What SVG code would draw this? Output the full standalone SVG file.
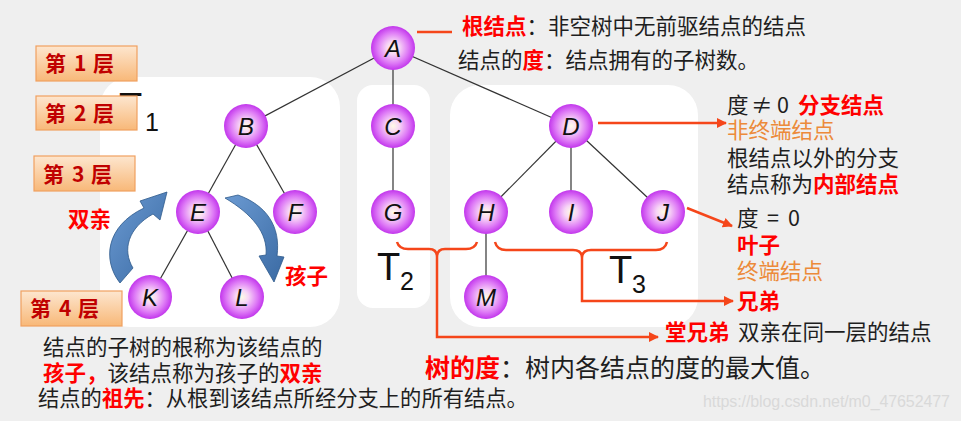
<svg xmlns="http://www.w3.org/2000/svg" width="961" height="421" viewBox="0 0 961 421">
<defs>
<radialGradient id="ng" cx="50%" cy="50%" r="50%">
<stop offset="0" stop-color="#fffbe6"/>
<stop offset="0.3" stop-color="#f7d4f6"/>
<stop offset="0.7" stop-color="#de7af6"/>
<stop offset="1" stop-color="#c236ec"/>
</radialGradient>
<linearGradient id="bg" x1="0" y1="0" x2="0" y2="1">
<stop offset="0" stop-color="#fde6cf"/>
<stop offset="1" stop-color="#f8b878"/>
</linearGradient>
<linearGradient id="blue" x1="0" y1="0" x2="1" y2="1">
<stop offset="0" stop-color="#6b9ad2"/>
<stop offset="1" stop-color="#3a6aa3"/>
</linearGradient>
<marker id="ah" viewBox="0 0 10 10" refX="9" refY="5" markerWidth="4" markerHeight="4" orient="auto" markerUnits="strokeWidth">
<path d="M0,0 L10,5 L0,10 Z" fill="#f5461a"/>
</marker>
<style>
.edge{stroke:#333;stroke-width:1.2;fill:none}
.node circle{fill:url(#ng)}
.node text{font-family:"Liberation Sans",Arial,sans-serif;font-style:italic;font-size:24px;fill:#111;text-anchor:middle}
.rl{stroke:#f5461a;stroke-width:2.5;fill:none}
.cn{font-family:"Noto Sans CJK SC","Noto Sans",sans-serif;font-size:21.5px;fill:#1e1e1e}
.big{font-size:25px}
.sm{font-size:21.3px}
.r{fill:#ff0000;font-weight:bold}
.o{fill:#ec8a3a}
.lvbox{fill:url(#bg);stroke:#f0a060;stroke-width:1.2}
.lv{font-family:"Noto Sans CJK SC",sans-serif;font-size:21px;font-weight:bold;fill:#c00000}
.t{font-family:"Liberation Sans",Arial,sans-serif;fill:#111}
.barrow{fill:url(#blue);stroke:#2f5a8c;stroke-width:0.8}
</style>
</defs>
<rect x="0" y="0" width="961" height="421" fill="#efefef"/>
<!-- panels -->
<rect x="100" y="77" width="240" height="250" rx="30" fill="#fff"/>
<rect x="357" y="85" width="73" height="223" rx="16" fill="#fff"/>
<rect x="450" y="85" width="248" height="242" rx="30" fill="#fff"/>

<!-- T labels -->
<text class="t" x="119" y="120" font-size="38">T</text>
<text class="t" x="145" y="131" font-size="25">1</text>
<text class="t" x="377" y="280" font-size="38">T</text>
<text class="t" x="400" y="290" font-size="25">2</text>
<text class="t" x="609" y="283" font-size="38">T</text>
<text class="t" x="632" y="293" font-size="25">3</text>

<!-- level boxes -->
<g id="level1"><rect class="lvbox" x="36" y="46" width="101" height="35"/><text class="lv" y="71"><tspan x="45">第</tspan><tspan x="74">1</tspan><tspan x="93">层</tspan></text></g>
<g id="level2"><rect class="lvbox" x="36" y="96" width="101" height="34"/><text class="lv" y="121"><tspan x="45">第</tspan><tspan x="74">2</tspan><tspan x="93">层</tspan></text></g>
<g id="level3"><rect class="lvbox" x="34" y="156" width="101" height="35"/><text class="lv" y="182"><tspan x="43">第</tspan><tspan x="72">3</tspan><tspan x="91">层</tspan></text></g>
<g id="level4"><rect class="lvbox" x="21" y="291" width="101" height="35"/><text class="lv" y="316"><tspan x="30">第</tspan><tspan x="59">4</tspan><tspan x="78">层</tspan></text></g>

<!-- connectors -->
<g id="connectors">
<line class="edge" x1="393" y1="48" x2="246" y2="126"/>
<line class="edge" x1="393" y1="48" x2="393" y2="126"/>
<line class="edge" x1="393" y1="48" x2="571" y2="126"/>
<line class="edge" x1="246" y1="126" x2="198" y2="212"/>
<line class="edge" x1="246" y1="126" x2="295" y2="212"/>
<line class="edge" x1="393" y1="126" x2="393" y2="212"/>
<line class="edge" x1="571" y1="126" x2="486" y2="212"/>
<line class="edge" x1="571" y1="126" x2="571" y2="212"/>
<line class="edge" x1="571" y1="126" x2="663" y2="212"/>
<line class="edge" x1="198" y1="212" x2="150" y2="297"/>
<line class="edge" x1="198" y1="212" x2="242" y2="297"/>
<line class="edge" x1="486" y1="212" x2="486" y2="297"/>
<!-- red annotation lines -->
<line class="rl" x1="417" y1="32" x2="452" y2="32"/>
<line class="rl" x1="598" y1="123" x2="726" y2="123" marker-end="url(#ah)"/>
<line class="rl" x1="687" y1="208" x2="732" y2="226" marker-end="url(#ah)"/>
<path class="rl" d="M397 242 Q399 249 408 249 L429 249 Q437 249 437 257 M477 242 Q475 249 466 249 L445 249 Q437 249 437 257 L437 337 L658 337" marker-end="url(#ah)"/>
<path class="rl" d="M495 242 Q497 250 506 250 L573 250 Q582 250 582 258 M667 242 Q665 250 656 250 L591 250 Q582 250 582 258 L582 301 L733 301" marker-end="url(#ah)"/>
<!-- blue curved arrows -->
<path class="barrow" d="M120 283 C102 260 106 226 144 208 L140 201 L167 192 L160 220 L153 214 C128 228 122 250 133 268 Z"/>
<path class="barrow" d="M225 198 L238 195 C266 205 281 226 277 256 L284 257 L274 282 L259 256 L266 255 C268 233 252 214 225 198 Z"/>
</g>

<!-- nodes -->
<g id="A" class="node"><circle cx="393" cy="48" r="22"/><text x="393" y="57">A</text></g>
<g id="B" class="node"><circle cx="246" cy="126" r="22"/><text x="246" y="135">B</text></g>
<g id="C" class="node"><circle cx="393" cy="126" r="22"/><text x="393" y="135">C</text></g>
<g id="D" class="node"><circle cx="571" cy="126" r="22"/><text x="571" y="135">D</text></g>
<g id="E" class="node"><circle cx="198" cy="212" r="22"/><text x="198" y="221">E</text></g>
<g id="F" class="node"><circle cx="295" cy="212" r="22"/><text x="295" y="221">F</text></g>
<g id="G" class="node"><circle cx="393" cy="212" r="22"/><text x="393" y="221">G</text></g>
<g id="H" class="node"><circle cx="486" cy="212" r="22"/><text x="486" y="221">H</text></g>
<g id="I" class="node"><circle cx="571" cy="212" r="22"/><text x="571" y="221">I</text></g>
<g id="J" class="node"><circle cx="663" cy="212" r="22"/><text x="663" y="221">J</text></g>
<g id="K" class="node"><circle cx="150" cy="297" r="22"/><text x="150" y="306">K</text></g>
<g id="L" class="node"><circle cx="242" cy="297" r="22"/><text x="242" y="306">L</text></g>
<g id="M" class="node"><circle cx="486" cy="297" r="22"/><text x="486" y="306">M</text></g>

<!-- texts -->
<text class="cn" x="462" y="34"><tspan class="r">根结点</tspan>：非空树中无前驱结点的结点</text>
<text class="cn" x="458" y="68">结点的<tspan class="r">度</tspan>：结点拥有的子树数。</text>

<text class="cn" y="113"><tspan x="727">度</tspan><tspan x="751">≠</tspan><tspan x="777">0</tspan><tspan x="798" class="r">分支结点</tspan></text>
<text class="cn o" x="727" y="138">非终端结点</text>
<text class="cn" x="727" y="166">根结点以外的分支</text>
<text class="cn" x="727" y="192">结点称为<tspan class="r">内部结点</tspan></text>

<text class="cn" y="226"><tspan x="737">度</tspan><tspan x="767">=</tspan><tspan x="788">0</tspan></text>
<text class="cn r" x="737" y="253">叶子</text>
<text class="cn o" x="737" y="279">终端结点</text>
<text class="cn r" x="737" y="309">兄弟</text>
<text class="cn" x="665" y="340"><tspan class="r">堂兄弟</tspan><tspan x="738">双亲在同一层的结点</tspan></text>

<text class="cn big" x="425" y="377"><tspan class="r">树的度</tspan>：树内各结点的度的最大值。</text>

<text class="cn r" x="68" y="227">双亲</text>
<text class="cn r" x="285" y="284">孩子</text>

<text class="cn" x="43" y="355">结点的子树的根称为该结点的</text>
<text class="cn" x="43" y="381"><tspan class="r">孩子，</tspan>该结点称为孩子的<tspan class="r">双亲</tspan></text>
<text class="cn sm" x="38" y="406">结点的<tspan class="r">祖先</tspan>：从根到该结点所经分支上的所有结点。</text>

<text x="703" y="407" font-family="Liberation Sans,Arial,sans-serif" font-size="16" fill="#d9d9d9" textLength="247">https://blog.csdn.net/m0_47652477</text>
</svg>
